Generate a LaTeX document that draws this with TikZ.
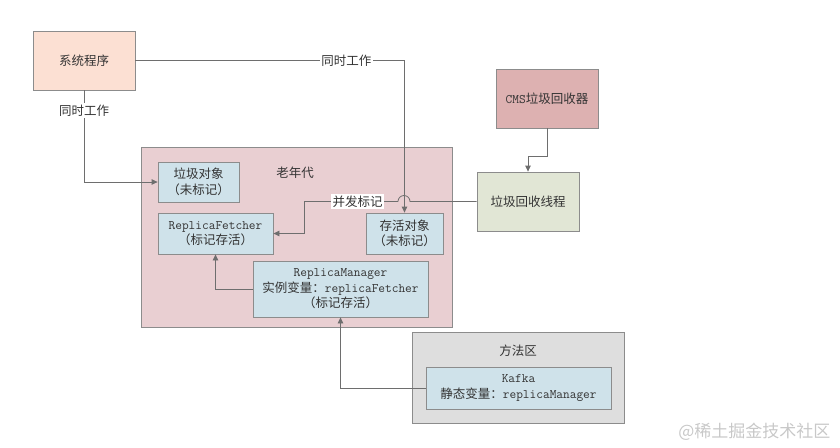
\documentclass[tikz,border=0pt]{standalone}
\usepackage{fontspec}
\setmainfont{Noto Sans CJK SC}
\newfontfamily\monofam{Latin Modern Mono}
\newcommand{\mono}{\monofam\fontsize{13}{15.5}\selectfont}
\usetikzlibrary{arrows.meta}
\definecolor{sysc}{HTML}{FCE0D3}
\definecolor{cmsc}{HTML}{DDB1B1}
\definecolor{thrc}{HTML}{E1E6D5}
\definecolor{oldc}{HTML}{E9CFD2}
\definecolor{innc}{HTML}{CFE2EA}
\definecolor{metc}{HTML}{DEDEDE}
\definecolor{bordc}{HTML}{8C8C8C}
\definecolor{linec}{HTML}{6E6E6E}
\definecolor{txtc}{HTML}{333333}
\tikzset{
  box/.style={draw=bordc, line width=0.8pt, inner sep=0pt, text=txtc, align=center},
  conn/.style={draw=linec, line width=0.8pt, -{Triangle[length=6pt,width=5.5pt]}},
  plainline/.style={draw=linec, line width=0.8pt},
  lbl/.style={fill=white, inner sep=1.5pt, text=txtc},
  area/.style={draw=bordc, line width=0.8pt},
}
\begin{document}
\begin{tikzpicture}[x=1pt,y=-1pt, font=\fontsize{12.5}{15.5}\selectfont]
\useasboundingbox (0,0) rectangle (840,447);
% containers
\draw[area, fill=oldc] (141,147) rectangle (452,327);
\node[text=txtc] (oldlbl) at (295,173) {老年代};
\draw[area, fill=metc] (412,332) rectangle (624,423);
\node[text=txtc] (metlbl) at (518,351) {方法区};
% top nodes
\node[box, fill=sysc, minimum width=102pt, minimum height=59pt] (sys) at (84,60.5) {系统程序};
\node[box, fill=cmsc, minimum width=102pt, minimum height=59pt] (cms) at (547,98.5) {{\mono CMS}垃圾回收器};
\node[box, fill=thrc, minimum width=102pt, minimum height=59pt] (thr) at (528,201.5) {垃圾回收线程};
% inner nodes
\node[box, fill=innc, minimum width=81pt, minimum height=40pt] (garb) at (198.5,182) {垃圾对象\\（未标记）};
\node[box, fill=innc, minimum width=115pt, minimum height=41pt] (rf) at (215.5,233.5) {{\mono ReplicaFetcher}\\（标记存活）};
\node[box, fill=innc, minimum width=77pt, minimum height=41pt] (alive) at (404.5,233.5) {存活对象\\（未标记）};
\node[box, fill=innc, minimum width=175pt, minimum height=56pt] (rm) at (340.5,289) {{\mono ReplicaManager}\\实例变量：{\mono replicaFetcher}\\（标记存活）};
\node[box, fill=innc, minimum width=185pt, minimum height=42pt] (kafka) at (518.5,388) {{\mono Kafka}\\静态变量：{\mono replicaManager}};
% connectors
\draw[conn] (sys.east) -| node[lbl, pos=0.392] {同时工作} (alive.north);
\draw[conn] (sys.south) |- node[lbl, pos=0.109] {同时工作} (garb.west);
\draw[conn] (cms.south) -- ++(0,28) -| (thr.north);
\coordinate (hopR) at (410,201.5);
\coordinate (hopL) at (398,201.5);
\coordinate (bendA) at (304,201.5);
\coordinate (bendB) at (304,233.5);
\draw[plainline] (thr.west) -- (hopR) arc[start angle=0, end angle=180, radius=6pt];
\draw[conn] (hopL) -- node[lbl, pos=0.43] {并发标记} (bendA) -- (bendB) -- (rf.east);
\draw[conn] (rm.west) -| (rf.south);
\draw[conn] (kafka.west) -| (rm.south);
% watermark
\node[anchor=east, text={rgb,255:red,200;green,200;blue,200}, font=\fontsize{17}{20}\selectfont] (wm) at (834,432) {@稀土掘金技术社区};
\end{tikzpicture}
\end{document}
